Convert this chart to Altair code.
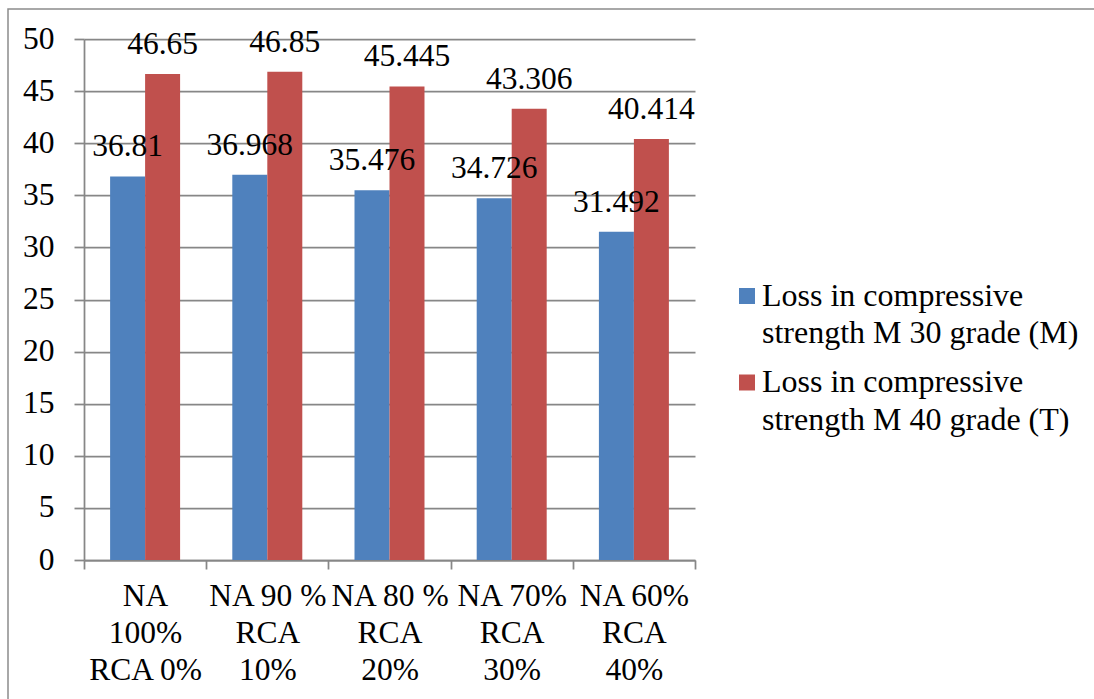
import altair as alt
import pandas as pd

# Mix proportions (natural aggregate / recycled concrete aggregate)
categories = [
    "NA\n100%\nRCA 0%",
    "NA 90 %\nRCA\n10%",
    "NA 80 %\nRCA\n20%",
    "NA 70%\nRCA\n30%",
    "NA 60%\nRCA\n40%",
]
series = [
    "Loss in compressive\nstrength M 30 grade (M)",
    "Loss in compressive\nstrength M 40 grade (T)",
]
m30_values = [36.81, 36.968, 35.476, 34.726, 31.492]
m40_values = [46.65, 46.85, 45.445, 43.306, 40.414]
y_ticks = [0, 5, 10, 15, 20, 25, 30, 35, 40, 45, 50]
colors = ["#4F81BD", "#C0504D"]

rows = []
for cat, a, b in zip(categories, m30_values, m40_values):
    rows.append({"category": cat, "series": series[0], "value": a})
    rows.append({"category": cat, "series": series[1], "value": b})
df = pd.DataFrame(rows)

FONT = "Liberation Serif"
FS = 31.5
GRAY = "#878787"
W, H = 611, 521
LEFT, TOP = 84, 39

x_enc = alt.X(
    "category:N",
    sort=categories,
    scale=alt.Scale(paddingInner=0, paddingOuter=0),
    axis=alt.Axis(
        title=None,
        labelAngle=0,
        labelExpr="split(datum.label, '\\n')",
        labelLineHeight=37,
        labelFont=FONT,
        labelFontSize=FS,
        labelColor="black",
        labelPadding=11,
        labelLimit=300,
        tickBand="extent",
        tickSize=9,
        tickColor=GRAY,
        tickWidth=1.75,
        domainColor=GRAY,
        domainWidth=1.75,
        grid=False,
    ),
)
xoff_enc = alt.XOffset(
    "series:N",
    sort=series,
    scale=alt.Scale(paddingInner=0, paddingOuter=0.746),
)
y_scale = alt.Scale(domain=[0, 50], nice=False, zero=True)

base = alt.Chart(df).encode(x=x_enc, xOffset=xoff_enc)

bars = base.mark_bar().encode(
    y=alt.Y(
        "value:Q",
        scale=y_scale,
        axis=alt.Axis(
            title=None,
            values=y_ticks,
            labelFont=FONT,
            labelFontSize=FS,
            labelColor="black",
            labelPadding=20,
            tickSize=10,
            tickColor=GRAY,
            tickWidth=1.75,
            domainColor=GRAY,
            domainWidth=1.75,
            gridColor=GRAY,
            gridWidth=1.75,
        ),
    ),
    color=alt.Color(
        "series:N",
        sort=series,
        scale=alt.Scale(domain=series, range=colors),
        legend=None,
    ),
)

labels = base.mark_text(
    font=FONT, fontSize=FS, color="black", baseline="alphabetic", dy=-20
).encode(
    y=alt.Y("value:Q", scale=y_scale),
    text=alt.Text("value:Q"),
)

# Legend drawn by hand so the swatch lines up with the first text line
one = alt.Data(values=[{}])
legend_layers = []
for i, (name, col) in enumerate(zip(series, colors)):
    y0 = 296 - TOP + i * 86.5
    legend_layers.append(
        alt.Chart(one).mark_square(size=256, color=col, opacity=1, strokeWidth=0).encode(
            x=alt.value(747 - LEFT), y=alt.value(y0)
        )
    )
    legend_layers.append(
        alt.Chart(one).mark_text(
            font=FONT, fontSize=32, color="black", align="left",
            baseline="alphabetic", lineHeight=37.5, text=name.split("\n"),
        ).encode(x=alt.value(762 - LEFT), y=alt.value(y0 + 9.5))
    )

# Thin frame around the whole chart
frame = alt.Chart(one).mark_rect(
    fill=None, stroke="#8c8c8c", strokeWidth=1.5
).encode(
    x=alt.value(8 - LEFT),
    y=alt.value(9 - TOP),
    x2=alt.value(1094 - LEFT + 20),
    y2=alt.value(699 - TOP + 20),
)

chart = (
    alt.layer(bars, labels, *legend_layers, frame)
    .properties(
        width=W,
        height=H,
        autosize=alt.AutoSizeParams(type="none"),
        padding={"left": LEFT, "top": TOP, "right": 1094 - LEFT - W, "bottom": 699 - TOP - H},
    )
    .configure(font=FONT)
    .configure_axis(labelFont=FONT)
    .configure_text(font=FONT)
    .configure_view(stroke=None)
)

chart.save("out.html", embed_options={"renderer": "svg", "actions": False})
